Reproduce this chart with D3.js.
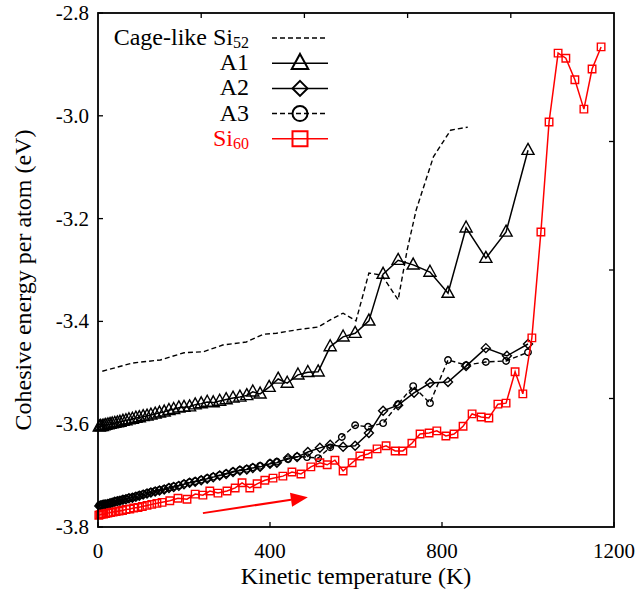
<!DOCTYPE html>
<html><head><meta charset="utf-8">
<script src="https://cdn.jsdelivr.net/npm/d3@7"></script>
<style>body{margin:0;background:#fff}svg{display:block}</style>
</head><body><svg id="c" width="636" height="592"></svg>
<script>
// ---- data ----
const cageT = [10, 80, 145, 200, 245, 290, 345, 385, 415, 465, 512, 540, 570, 600, 630, 660, 698, 719, 740, 780, 820, 860];
const cageE = [-3.497, -3.481, -3.475, -3.461, -3.459, -3.446, -3.440, -3.425, -3.423, -3.416, -3.411, -3.397, -3.384, -3.399, -3.306, -3.310, -3.358, -3.261, -3.183, -3.080, -3.028, -3.022];

const a1T = [3,6,10,14,18,23,28,33,39,45,51,58,65,72,80,88,96,105,114,123,133,143,154,165,176,188,200,213,226,240,254,268,283,298,314,330,346,360,377,398,419,440,465,488,512,540,570,598,630,663,698,733,772,814,856,902,949,1000];
const a1E = [-3.605,-3.604,-3.604,-3.603,-3.602,-3.601,-3.600,-3.599,-3.598,-3.597,-3.596,-3.594,-3.593,-3.591,-3.590,-3.588,-3.587,-3.585,-3.584,-3.582,-3.580,-3.578,-3.576,-3.573,-3.571,-3.568,-3.567,-3.566,-3.562,-3.560,-3.557,-3.558,-3.555,-3.552,-3.549,-3.547,-3.544,-3.537,-3.541,-3.528,-3.512,-3.520,-3.504,-3.499,-3.498,-3.449,-3.430,-3.423,-3.399,-3.308,-3.281,-3.290,-3.304,-3.345,-3.218,-3.277,-3.226,-3.067];

const a2T = [3,6,10,14,18,23,28,33,39,45,51,58,65,72,80,88,96,105,114,123,133,143,154,165,176,188,200,213,226,240,254,268,283,298,314,330,346,360,377,400,416,442,463,488,516,540,570,598,630,663,698,735,772,814,856,902,951,1000];
const a2E = [-3.759,-3.758,-3.757,-3.756,-3.756,-3.755,-3.754,-3.753,-3.751,-3.750,-3.749,-3.747,-3.746,-3.744,-3.743,-3.741,-3.739,-3.737,-3.735,-3.733,-3.731,-3.729,-3.727,-3.724,-3.722,-3.720,-3.717,-3.714,-3.712,-3.709,-3.706,-3.703,-3.700,-3.697,-3.693,-3.690,-3.688,-3.685,-3.683,-3.677,-3.675,-3.666,-3.664,-3.654,-3.646,-3.640,-3.644,-3.642,-3.617,-3.574,-3.563,-3.539,-3.520,-3.518,-3.487,-3.452,-3.467,-3.444];

const a3T = [3,6,10,14,18,23,28,33,39,45,51,58,65,72,80,88,96,105,114,123,133,143,154,165,176,188,200,213,226,240,254,268,283,298,314,330,346,360,377,400,416,442,463,486,512,540,567,598,628,663,698,733,772,814,856,902,949,1000];
const a3E = [-3.758,-3.757,-3.756,-3.755,-3.755,-3.754,-3.753,-3.752,-3.750,-3.749,-3.748,-3.746,-3.745,-3.743,-3.742,-3.740,-3.738,-3.736,-3.734,-3.732,-3.730,-3.728,-3.726,-3.723,-3.721,-3.719,-3.716,-3.713,-3.711,-3.708,-3.705,-3.702,-3.699,-3.696,-3.692,-3.689,-3.687,-3.684,-3.681,-3.676,-3.673,-3.668,-3.663,-3.664,-3.666,-3.645,-3.625,-3.602,-3.605,-3.598,-3.561,-3.526,-3.559,-3.475,-3.485,-3.479,-3.477,-3.460];

const si60T = [2,5,9,13,18,23,29,35,42,49,57,65,74,83,93,103,114,125,137,149,167,186,207,226,244,260,279,300,319,335,353,370,388,407,430,451,472,495,516,533,551,570,591,609,628,649,670,691,709,730,749,770,788,809,828,849,870,891,909,930,949,970,988,1009,1030,1049,1070,1088,1109,1130,1149,1170];
const si60E = [-3.777,-3.776,-3.775,-3.775,-3.774,-3.773,-3.772,-3.771,-3.770,-3.769,-3.768,-3.766,-3.765,-3.763,-3.762,-3.760,-3.758,-3.756,-3.754,-3.752,-3.749,-3.744,-3.746,-3.736,-3.738,-3.730,-3.734,-3.730,-3.724,-3.714,-3.724,-3.716,-3.709,-3.705,-3.701,-3.693,-3.697,-3.683,-3.675,-3.679,-3.670,-3.691,-3.675,-3.662,-3.658,-3.648,-3.642,-3.652,-3.652,-3.637,-3.619,-3.617,-3.613,-3.623,-3.619,-3.604,-3.580,-3.586,-3.588,-3.561,-3.559,-3.498,-3.541,-3.432,-3.226,-3.012,-2.878,-2.888,-2.930,-2.987,-2.909,-2.866];

const xTicks = [0, 400, 800, 1200];
const yTicks = [-3.8, -3.6, -3.4, -3.2, -3.0, -2.8];
const yTickLabels = ["-3.8", "-3.6", "-3.4", "-3.2", "-3.0", "-2.8"];
const x2Ticks = [0.2, 0.4, 0.6, 0.8];
const y2Ticks = [-3.55, -3.3, -3.05];
const arrowT = [244, 488];
const arrowE = [-3.773, -3.742];

const legendNames = [["Cage-like Si", "52"], ["A1", ""], ["A2", ""], ["A3", ""], ["Si", "60"]];

// ---- chart ----
const FONT = "'Liberation Serif'";
const svg = d3.select("#c").style("font-family", FONT);
const L = 98, R = 614, T = 13, B = 527;
const x = d3.scaleLinear().domain([0, 1200]).range([L, R]);
const y = d3.scaleLinear().domain([-3.8, -2.8]).range([B, T]);
const x2 = d3.scaleLinear().domain([0, 1]).range([L, R]);
const RED = "#ff0000";

// ticks (inward)
const tl = 5;
const g = svg.append("g");
g.selectAll(".xt").data(xTicks).enter().append("line")
  .attr("x1", d => x(d)).attr("x2", d => x(d)).attr("y1", B).attr("y2", B - tl)
  .attr("stroke", "#000").attr("stroke-width", 1.3);
g.selectAll(".x2t").data(x2Ticks).enter().append("line")
  .attr("x1", d => x2(d)).attr("x2", d => x2(d)).attr("y1", T).attr("y2", T + tl)
  .attr("stroke", "#000").attr("stroke-width", 1.3);
g.selectAll(".yt").data(yTicks).enter().append("line")
  .attr("x1", L).attr("x2", L + tl).attr("y1", d => y(d)).attr("y2", d => y(d))
  .attr("stroke", "#000").attr("stroke-width", 1.3);
g.selectAll(".y2t").data(y2Ticks).enter().append("line")
  .attr("x1", R).attr("x2", R - tl).attr("y1", d => y(d)).attr("y2", d => y(d))
  .attr("stroke", "#000").attr("stroke-width", 1.3);

// tick labels
g.selectAll(".xl").data(xTicks).enter().append("text")
  .style("font-family", FONT)
  .attr("x", d => x(d)).attr("y", 558).attr("text-anchor", "middle")
  .attr("font-size", 21).text(d => d);
g.selectAll(".yl").data(yTicks).enter().append("text")
  .style("font-family", FONT)
  .attr("x", 89).attr("y", d => y(d) + 7).attr("text-anchor", "end")
  .attr("font-size", 21).text((d, i) => yTickLabels[i]);

// axis titles
svg.append("text").style("font-family", FONT).attr("x", 356).attr("y", 584).attr("text-anchor", "middle")
  .attr("font-size", 24).text("Kinetic temperature (K)");
svg.append("text").style("font-family", FONT).attr("transform", "translate(31,280) rotate(-90)").attr("text-anchor", "middle")
  .attr("font-size", 24).text("Cohesive energy per atom (eV)");

// markers
function triPath(s) { return `M0,${-s*0.62}L${s*0.55},${s*0.38}L${-s*0.55},${s*0.38}Z`; }
function diaPath(s) { return `M0,${-s/2}L${s/2},0L0,${s/2}L${-s/2},0Z`; }
function sqPath(s) { return `M${-s/2},${-s/2}H${s/2}V${s/2}H${-s/2}Z`; }
function circPath(s) { const r = s/2; return `M${-r},0A${r},${r} 0 1,0 ${r},0A${r},${r} 0 1,0 ${-r},0Z`; }

const line = d3.line().x(d => x(d[0])).y(d => y(d[1]));
const plot = svg.append("g");
function series(ts, es, color, dash, marker, msize, sw) {
  const pts = ts.map((t, i) => [t, es[i]]);
  plot.append("path").attr("d", line(pts)).attr("fill", "none").attr("stroke", color)
    .attr("stroke-width", sw).attr("stroke-dasharray", dash || null);
  if (marker) {
    plot.append("g").selectAll("path").data(pts).enter().append("path")
      .attr("transform", d => `translate(${x(d[0])},${y(d[1])})`)
      .attr("d", marker(msize)).attr("fill", "none").attr("stroke", color).attr("stroke-width", 1.4);
  }
}
series(cageT, cageE, "#000", "5,3", null, 0, 1.4);
series(a1T, a1E, "#000", null, triPath, 11, 1.5);
series(a2T, a2E, "#000", null, diaPath, 9, 1.5);
series(a3T, a3E, "#000", "5,3", circPath, 6.5, 1.4);
series(si60T, si60E, RED, null, sqPath, 7.5, 1.5);

// arrow
const ax1 = x(arrowT[0]), ay1 = y(arrowE[0]), ax2 = x(arrowT[1]), ay2 = y(arrowE[1]);
const ang = Math.atan2(ay2 - ay1, ax2 - ax1);
const hl = 17, hw = 7;
const bx = ax2 - hl * Math.cos(ang), by = ay2 - hl * Math.sin(ang);
svg.append("line").attr("x1", ax1).attr("y1", ay1).attr("x2", bx).attr("y2", by)
  .attr("stroke", RED).attr("stroke-width", 2);
svg.append("path").attr("d", `M${ax2},${ay2}L${bx - hw*Math.sin(ang)},${by + hw*Math.cos(ang)}L${bx + hw*Math.sin(ang)},${by - hw*Math.cos(ang)}Z`)
  .attr("fill", RED);

// legend
const lg = svg.append("g");
const legSpecs = [
  {color: "#000", dash: "5,3", marker: null},
  {color: "#000", dash: null, marker: triPath, size: 15},
  {color: "#000", dash: null, marker: diaPath, size: 15},
  {color: "#000", dash: "5,3", marker: circPath, size: 15},
  {color: RED, dash: null, marker: sqPath, size: 15}
];
legendNames.forEach((nm, i) => {
  const ly = 38 + i * 25.2;
  const t = lg.append("text").style("font-family", FONT).attr("x", 249).attr("y", ly + 7).attr("text-anchor", "end")
    .attr("font-size", 24).attr("fill", legSpecs[i].color);
  t.append("tspan").text(nm[0]);
  if (nm[1]) t.append("tspan").attr("dy", 3).attr("font-size", 16).text(nm[1]);
  lg.append("line").attr("x1", 272).attr("x2", 328).attr("y1", ly).attr("y2", ly)
    .attr("stroke", legSpecs[i].color).attr("stroke-width", 1.5)
    .attr("stroke-dasharray", legSpecs[i].dash);
  if (legSpecs[i].marker) {
    lg.append("path").attr("transform", `translate(300,${ly})`).attr("d", legSpecs[i].marker(legSpecs[i].size))
      .attr("fill", "none").attr("stroke", legSpecs[i].color).attr("stroke-width", 2);
  }
});

// frame
svg.append("rect").attr("x", L).attr("y", T).attr("width", R - L).attr("height", B - T)
  .attr("fill", "none").attr("stroke", "#000").attr("stroke-width", 1.8);
</script></body></html>
